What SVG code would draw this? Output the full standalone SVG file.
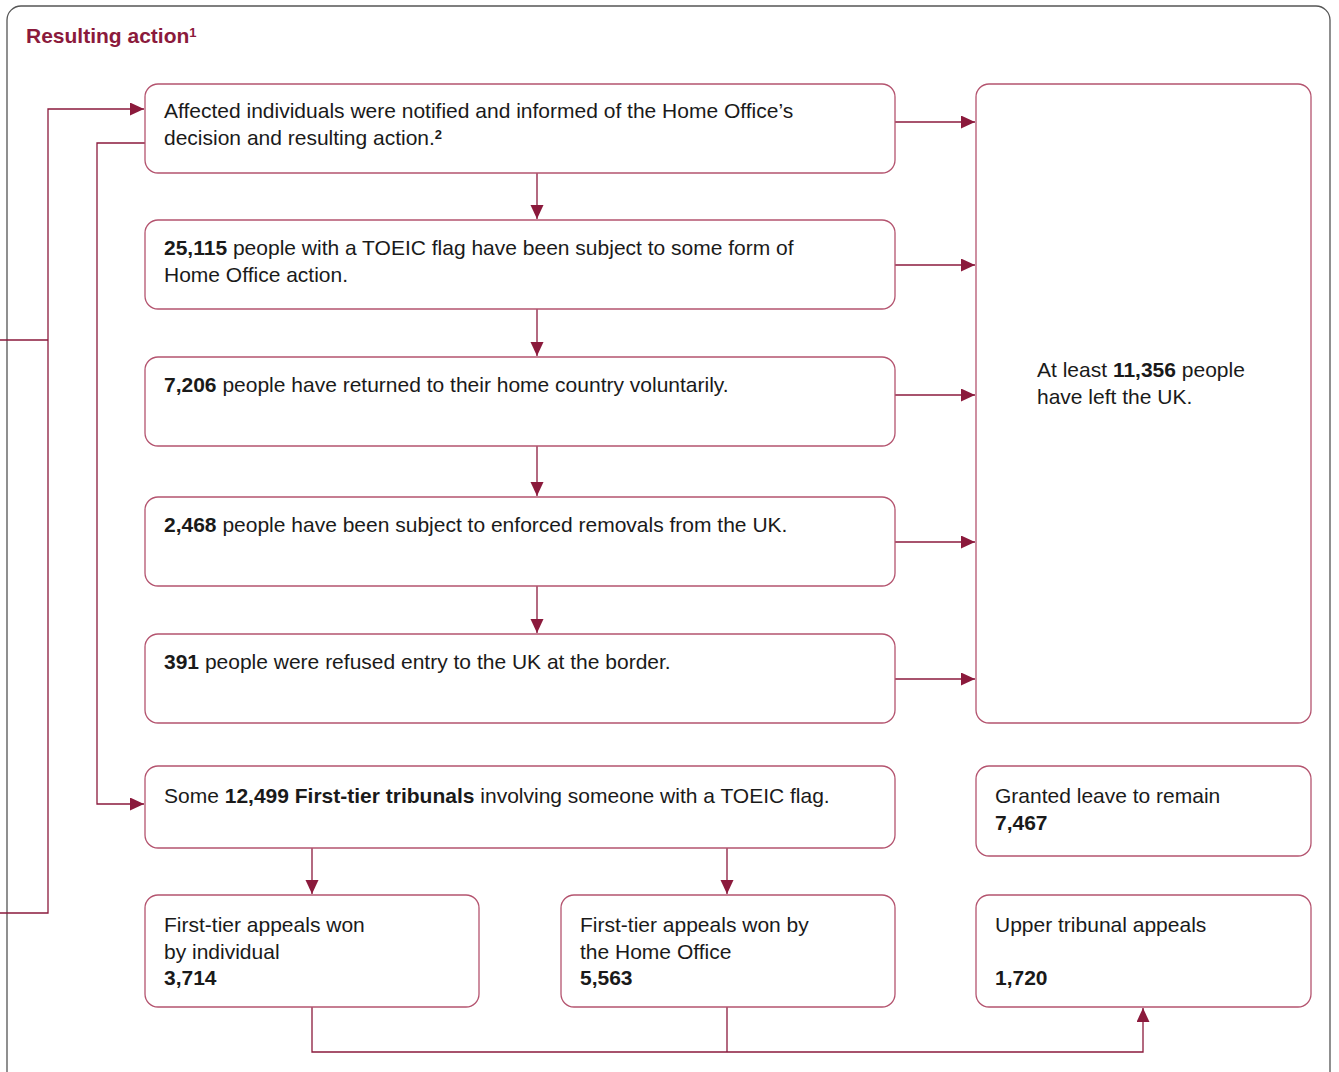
<svg xmlns="http://www.w3.org/2000/svg" width="1339" height="1072" viewBox="0 0 1339 1072">
<defs>
<marker id="ah" markerWidth="15" markerHeight="14" refX="14" refY="6.5" orient="auto" markerUnits="userSpaceOnUse">
<path d="M0,0 L14,6.5 L0,13 Z" fill="#8b1a3c"/>
</marker>
<style>
.box{fill:#fff;stroke:#b4546f;stroke-width:1.3}
.t{font-family:"Liberation Sans",Arial,sans-serif;font-size:21px;fill:#1a1a1a}
.b{font-weight:bold}
.c{fill:none;stroke:#8b1a3c;stroke-width:1.3}
</style>
</defs>
<rect width="1339" height="1072" fill="#fff"/>
<rect x="7" y="6" width="1323" height="1080" rx="14" fill="none" stroke="#555" stroke-width="1.3"/>
<text x="26" y="43" font-family="'Liberation Sans',Arial,sans-serif" font-size="21" font-weight="bold" fill="#8b1a3c">Resulting action<tspan font-size="13" dy="-6">1</tspan></text>

<g id="connectors">
<path class="c" d="M0,340 H48 M0,913 H48 V109 H144" marker-end="url(#ah)"/>
<path class="c" d="M145,143 H97 V804 H144" marker-end="url(#ah)"/>
<path class="c" d="M537,173 V219" marker-end="url(#ah)"/>
<path class="c" d="M537,309 V356" marker-end="url(#ah)"/>
<path class="c" d="M537,446 V496" marker-end="url(#ah)"/>
<path class="c" d="M537,586 V633" marker-end="url(#ah)"/>
<path class="c" d="M895,122 H975" marker-end="url(#ah)"/>
<path class="c" d="M895,265 H975" marker-end="url(#ah)"/>
<path class="c" d="M895,395 H975" marker-end="url(#ah)"/>
<path class="c" d="M895,542 H975" marker-end="url(#ah)"/>
<path class="c" d="M895,679 H975" marker-end="url(#ah)"/>
<path class="c" d="M312,848 V894" marker-end="url(#ah)"/>
<path class="c" d="M727,848 V894" marker-end="url(#ah)"/>
<path class="c" d="M727,1007 V1052"/>
<path class="c" d="M312,1007 V1052 H1143 V1008" marker-end="url(#ah)"/>
</g>

<g id="n1"><rect class="box" x="145" y="84" width="750" height="89" rx="13"/>
<text class="t" x="164" y="118">Affected individuals were notified and informed of the Home Office’s</text>
<text class="t" x="164" y="145">decision and resulting action.<tspan class="b" font-size="13" dy="-6">2</tspan></text></g>

<g id="n2"><rect class="box" x="145" y="220" width="750" height="89" rx="13"/>
<text class="t" x="164" y="255"><tspan class="b">25,115</tspan> people with a TOEIC flag have been subject to some form of</text>
<text class="t" x="164" y="282">Home Office action.</text></g>

<g id="n3"><rect class="box" x="145" y="357" width="750" height="89" rx="13"/>
<text class="t" x="164" y="392"><tspan class="b">7,206</tspan> people have returned to their home country voluntarily.</text></g>

<g id="n4"><rect class="box" x="145" y="497" width="750" height="89" rx="13"/>
<text class="t" x="164" y="532"><tspan class="b">2,468</tspan> people have been subject to enforced removals from the UK.</text></g>

<g id="n5"><rect class="box" x="145" y="634" width="750" height="89" rx="13"/>
<text class="t" x="164" y="669"><tspan class="b">391</tspan> people were refused entry to the UK at the border.</text></g>

<g id="n6"><rect class="box" x="145" y="766" width="750" height="82" rx="13"/>
<text class="t" x="164" y="803">Some <tspan class="b">12,499 First-tier tribunals</tspan> involving someone with a TOEIC flag.</text></g>

<g id="n7"><rect class="box" x="145" y="895" width="334" height="112" rx="13"/>
<text class="t" x="164" y="932">First-tier appeals won</text>
<text class="t" x="164" y="959">by individual</text>
<text class="t b" x="164" y="985">3,714</text></g>

<g id="n8"><rect class="box" x="561" y="895" width="334" height="112" rx="13"/>
<text class="t" x="580" y="932">First-tier appeals won by</text>
<text class="t" x="580" y="959">the Home Office</text>
<text class="t b" x="580" y="985">5,563</text></g>

<g id="n9"><rect class="box" x="976" y="84" width="335" height="639" rx="13"/>
<text class="t" x="1037" y="377">At least <tspan class="b">11,356</tspan> people</text>
<text class="t" x="1037" y="404">have left the UK.</text></g>

<g id="n10"><rect class="box" x="976" y="766" width="335" height="90" rx="13"/>
<text class="t" x="995" y="803">Granted leave to remain</text>
<text class="t b" x="995" y="830">7,467</text></g>

<g id="n11"><rect class="box" x="976" y="895" width="335" height="112" rx="13"/>
<text class="t" x="995" y="932">Upper tribunal appeals</text>
<text class="t b" x="995" y="985">1,720</text></g>
</svg>
